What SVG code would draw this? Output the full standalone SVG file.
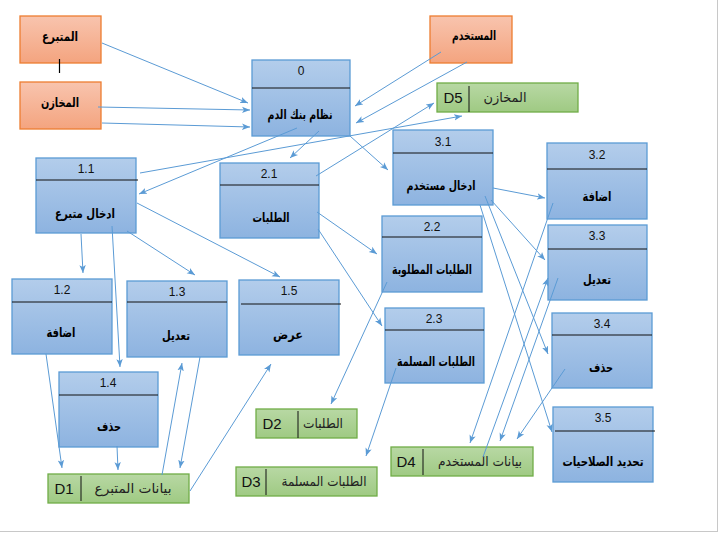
<svg xmlns="http://www.w3.org/2000/svg" width="719" height="533" viewBox="0 0 719 533">
<defs>
<linearGradient id="gP" x1="0" y1="0" x2="0" y2="1"><stop offset="0" stop-color="#b3cdeb"/><stop offset="1" stop-color="#8db3e0"/></linearGradient>
<linearGradient id="gE" x1="0" y1="0" x2="0" y2="1"><stop offset="0" stop-color="#f8c4ae"/><stop offset="1" stop-color="#f4a47f"/></linearGradient>
<linearGradient id="gS" x1="0" y1="0" x2="0" y2="1"><stop offset="0" stop-color="#b8d8a4"/><stop offset="1" stop-color="#9fca83"/></linearGradient>
<marker id="ar" markerUnits="userSpaceOnUse" markerWidth="10" markerHeight="8" refX="8" refY="4" orient="auto"><path d="M0,0.8 L8,4 L0,7.2 L2,4 Z" fill="#5b9bd5"/></marker>
</defs>
<style>
.proc{fill:url(#gP);stroke:#5b9bd5;stroke-width:1.3}
.ent{fill:url(#gE);stroke:#ed7d31;stroke-width:1.3}
.store{fill:url(#gS);stroke:#70ad47;stroke-width:1.3}
.hl{stroke:#111;stroke-width:1}
.num{font-family:"Liberation Sans",Arial,sans-serif;font-size:12px;fill:#111;text-anchor:middle;dominant-baseline:central}
.nm{font-family:"DejaVu Sans",sans-serif;font-size:13px;font-weight:bold;fill:#000;text-anchor:middle;dominant-baseline:central}
.sid{font-family:"Liberation Sans",Arial,sans-serif;font-size:15px;fill:#111;text-anchor:middle;dominant-baseline:central}
.snm{font-family:"DejaVu Sans",sans-serif;font-size:13.5px;fill:#222;text-anchor:middle;dominant-baseline:central}
.cn line{stroke:#5b9bd5;stroke-width:1;marker-end:url(#ar)}
</style>
<rect x="0" y="0" width="719" height="533" fill="#fff"/>
<line x1="717.5" y1="0" x2="717.5" y2="532" stroke="#c8c8c8" stroke-width="1"/>
<line x1="0" y1="531.5" x2="718" y2="531.5" stroke="#c8c8c8" stroke-width="1"/>

<g id="ent-donor"><rect class="ent" x="20" y="16" width="81" height="47"/><text class="nm" x="60" y="36" textLength="36" lengthAdjust="spacingAndGlyphs">المتبرع</text></g>
<line x1="59.5" y1="59" x2="59.5" y2="73" stroke="#000" stroke-width="1.2"/>
<g id="ent-stores"><rect class="ent" x="20" y="82" width="81" height="47"/><text class="nm" x="60" y="102" textLength="38" lengthAdjust="spacingAndGlyphs">المخازن</text></g>
<g id="ent-user"><rect class="ent" x="430" y="16" width="82" height="47"/><text class="nm" x="474" y="35" textLength="44" lengthAdjust="spacingAndGlyphs">المستخدم</text></g>

<g id="p0"><rect class="proc" x="252" y="60" width="98" height="76"/><line class="hl" x1="252" y1="88" x2="350" y2="88"/><text class="num" x="301" y="71">0</text><text class="nm" x="300" y="114" textLength="65" lengthAdjust="spacingAndGlyphs">نظام بنك الدم</text></g>
<g id="p1_1"><rect class="proc" x="36" y="158" width="100" height="75"/><line class="hl" x1="36" y1="180" x2="138" y2="180"/><text class="num" x="86" y="169">1.1</text><text class="nm" x="85" y="213" textLength="60" lengthAdjust="spacingAndGlyphs">ادخال متبرع</text></g>
<g id="p2_1"><rect class="proc" x="220" y="163" width="99" height="75"/><line class="hl" x1="220" y1="185" x2="319" y2="185"/><text class="num" x="269" y="174">2.1</text><text class="nm" x="271" y="217" textLength="37" lengthAdjust="spacingAndGlyphs">الطلبات</text></g>
<g id="p3_1"><rect class="proc" x="393" y="130" width="100" height="75"/><line class="hl" x1="393" y1="153" x2="493" y2="153"/><text class="num" x="443" y="142">3.1</text><text class="nm" x="441" y="185" textLength="69" lengthAdjust="spacingAndGlyphs">ادخال مستخدم</text></g>
<g id="p3_2"><rect class="proc" x="547" y="143" width="100" height="76"/><line class="hl" x1="547" y1="169" x2="647" y2="169"/><text class="num" x="597" y="155">3.2</text><text class="nm" x="597" y="196" textLength="29" lengthAdjust="spacingAndGlyphs">اضافة</text></g>
<g id="p2_2"><rect class="proc" x="382" y="216" width="100" height="76"/><line class="hl" x1="382" y1="237" x2="482" y2="237"/><text class="num" x="432" y="227">2.2</text><text class="nm" x="432" y="269" textLength="80" lengthAdjust="spacingAndGlyphs">الطلبات المطلوبة</text></g>
<g id="p3_3"><rect class="proc" x="548" y="225" width="99" height="75"/><line class="hl" x1="548" y1="249" x2="647" y2="249"/><text class="num" x="597" y="236">3.3</text><text class="nm" x="597" y="279" textLength="28" lengthAdjust="spacingAndGlyphs">تعديل</text></g>
<g id="p1_2"><rect class="proc" x="12" y="279" width="100" height="75"/><line class="hl" x1="12" y1="302" x2="112" y2="302"/><text class="num" x="62" y="290">1.2</text><text class="nm" x="61" y="332" textLength="29" lengthAdjust="spacingAndGlyphs">اضافة</text></g>
<g id="p1_3"><rect class="proc" x="127" y="281" width="100" height="76"/><line class="hl" x1="127" y1="302" x2="227" y2="302"/><text class="num" x="177" y="292">1.3</text><text class="nm" x="176" y="335" textLength="28" lengthAdjust="spacingAndGlyphs">تعديل</text></g>
<g id="p1_5"><rect class="proc" x="239" y="280" width="100" height="75"/><line class="hl" x1="241" y1="304" x2="341" y2="304"/><text class="num" x="289" y="291">1.5</text><text class="nm" x="288" y="334" textLength="30" lengthAdjust="spacingAndGlyphs">عرض</text></g>
<g id="p1_4"><rect class="proc" x="59" y="372" width="99" height="75"/><line class="hl" x1="59" y1="395" x2="158" y2="395"/><text class="num" x="108" y="383">1.4</text><text class="nm" x="109" y="426" textLength="24" lengthAdjust="spacingAndGlyphs">حذف</text></g>
<g id="p2_3"><rect class="proc" x="385" y="308" width="99" height="75"/><line class="hl" x1="385" y1="330" x2="484" y2="330"/><text class="num" x="434" y="319">2.3</text><text class="nm" x="436" y="361" textLength="78" lengthAdjust="spacingAndGlyphs">الطلبات المسلمة</text></g>
<g id="p3_4"><rect class="proc" x="552" y="313" width="100" height="75"/><line class="hl" x1="552" y1="335" x2="652" y2="335"/><text class="num" x="602" y="324">3.4</text><text class="nm" x="601" y="367" textLength="24" lengthAdjust="spacingAndGlyphs">حذف</text></g>
<g id="p3_5"><rect class="proc" x="553" y="407" width="100" height="75"/><line class="hl" x1="555" y1="431" x2="655" y2="431"/><text class="num" x="603" y="418">3.5</text><text class="nm" x="603" y="461" textLength="81" lengthAdjust="spacingAndGlyphs">تحديد الصلاحيات</text></g>

<g id="d5"><rect class="store" x="437" y="83" width="141" height="29"/><line class="hl" x1="469" y1="86" x2="469" y2="112"/><text class="sid" x="453" y="97">D5</text><text class="snm" x="505" y="97" textLength="43" lengthAdjust="spacingAndGlyphs">المخازن</text></g>
<g id="d1"><rect class="store" x="48" y="474" width="141" height="29"/><line class="hl" x1="81" y1="476" x2="81" y2="501"/><text class="sid" x="64" y="488">D1</text><text class="snm" x="133" y="488" textLength="77" lengthAdjust="spacingAndGlyphs">بيانات المتبرع</text></g>
<g id="d2"><rect class="store" x="256" y="409" width="101" height="29"/><line class="hl" x1="298" y1="411" x2="298" y2="438"/><text class="sid" x="272" y="423">D2</text><text class="snm" x="323" y="423" textLength="40" lengthAdjust="spacingAndGlyphs">الطلبات</text></g>
<g id="d3"><rect class="store" x="236" y="467" width="141" height="29"/><line class="hl" x1="266" y1="469" x2="266" y2="495"/><text class="sid" x="251" y="481">D3</text><text class="snm" x="324" y="481" textLength="85" lengthAdjust="spacingAndGlyphs">الطلبات المسلمة</text></g>
<g id="d4"><rect class="store" x="391" y="447" width="142" height="29"/><line class="hl" x1="423" y1="449" x2="423" y2="475"/><text class="sid" x="406" y="461">D4</text><text class="snm" x="480" y="461" textLength="84" lengthAdjust="spacingAndGlyphs">بيانات المستخدم</text></g>

<g id="connectors" class="cn">
<line x1="102" y1="43" x2="248" y2="103"/>
<line x1="98" y1="107" x2="250" y2="110"/>
<line x1="102" y1="123" x2="250" y2="127"/>
<line x1="441" y1="52" x2="355" y2="106"/>
<line x1="467" y1="62" x2="356" y2="123"/>
<line x1="316" y1="176" x2="434" y2="103"/>
<line x1="140" y1="173" x2="462" y2="116"/>
<line x1="297" y1="128" x2="139" y2="194"/>
<line x1="319" y1="131" x2="290" y2="158"/>
<line x1="350" y1="136" x2="388" y2="170"/>
<line x1="81" y1="234" x2="83" y2="273"/>
<line x1="112" y1="226" x2="120" y2="367"/>
<line x1="127" y1="231" x2="195" y2="275"/>
<line x1="137" y1="203" x2="280" y2="277"/>
<line x1="46" y1="354" x2="62" y2="468"/>
<line x1="117" y1="446" x2="118" y2="470"/>
<line x1="162" y1="475" x2="182" y2="363"/>
<line x1="200" y1="357" x2="180" y2="468"/>
<line x1="190" y1="491" x2="271" y2="364"/>
<line x1="317" y1="212" x2="377" y2="254"/>
<line x1="318" y1="229" x2="382" y2="326"/>
<line x1="387" y1="282" x2="331" y2="404"/>
<line x1="396" y1="368" x2="366" y2="456"/>
<line x1="493" y1="188" x2="545" y2="198"/>
<line x1="491" y1="200" x2="545" y2="260"/>
<line x1="485" y1="196" x2="548" y2="354"/>
<line x1="480" y1="205" x2="552" y2="432"/>
<line x1="553" y1="203" x2="470" y2="443"/>
<line x1="558" y1="278" x2="500" y2="441"/>
<line x1="565" y1="369" x2="517" y2="439"/>
<line x1="483" y1="457" x2="548" y2="278"/>
</g>
</svg>
